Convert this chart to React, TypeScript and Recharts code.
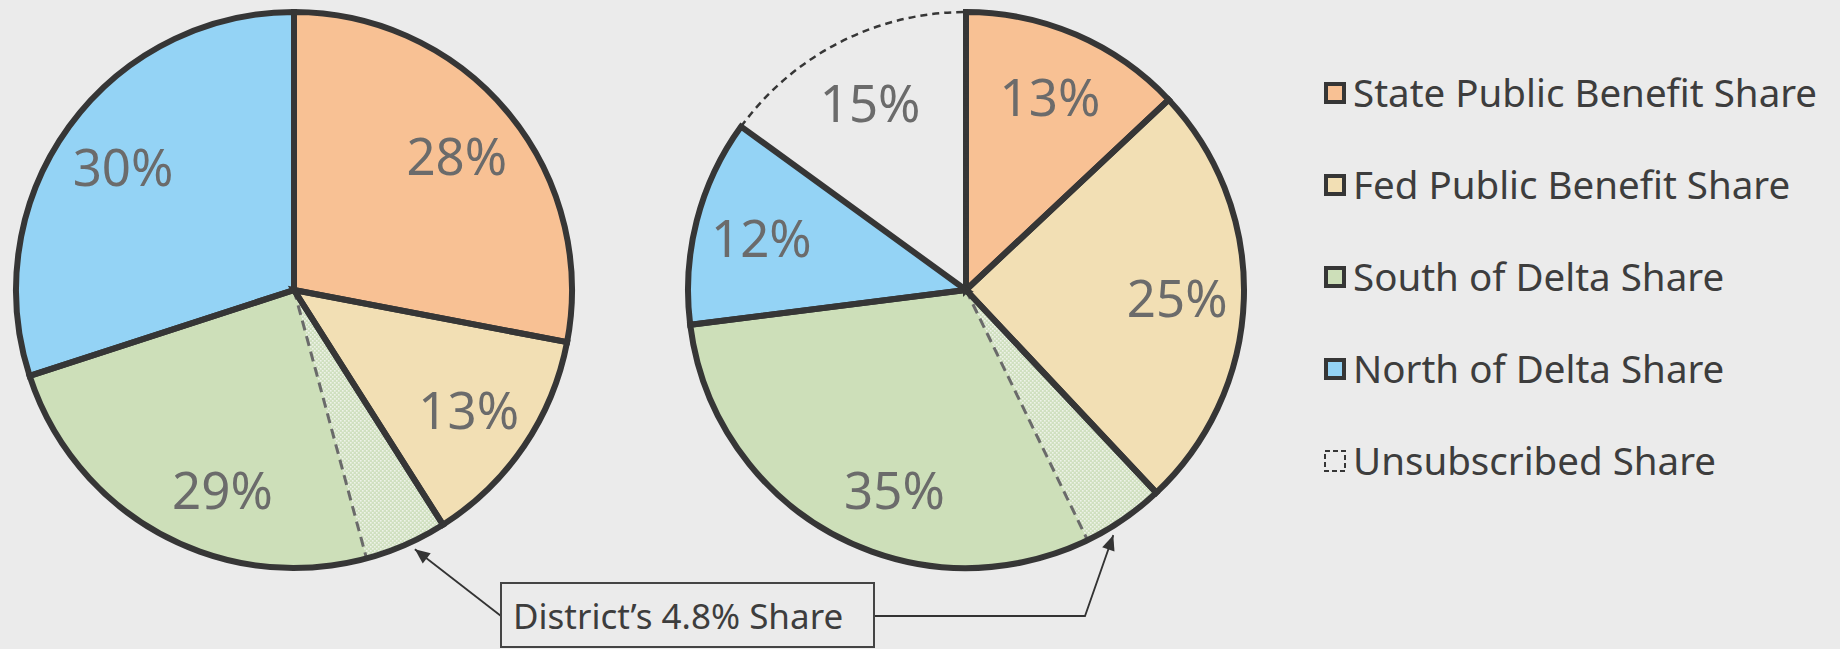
import React from "react";
import { PieChart, Pie, Cell } from "recharts";

// ---------- data ----------
const categories = [
  "State Public Benefit Share",
  "Fed Public Benefit Share",
  "South of Delta Share",
  "North of Delta Share",
  "Unsubscribed Share",
];
const currentShares = [28, 13, 29, 30];
const futureShares = [13, 25, 35, 12, 15];
const districtShare = 4.8;
const sliceColors = ["#f8c194", "#f2dfb4", "#cddfb9", "#94d3f5", "none"];
const calloutText = "District\u2019s 4.8% Share";

// ---------- layout / style ----------
const W = 1840;
const H = 649;
const BG = "#ebebeb";
const STROKE = "#363636";
const FONT = "'Noto Sans', sans-serif";
const R = 278;
const LEFT = { cx: 294, cy: 290 };
const RIGHT = { cx: 966, cy: 290 };
const RAD = Math.PI / 180;
const SW = 6;

const toData = (vals: number[]) =>
  vals.map((v, i) => ({ name: categories[i], value: v }));

const districtData = (vals: number[]) => {
  const before = vals[0] + vals[1];
  const total = vals.reduce((a, b) => a + b, 0);
  return [
    { name: "before", value: before },
    { name: "District", value: districtShare },
    { name: "after", value: total - before - districtShare },
  ];
};

const renderLabel = (p: any) => {
  const r = p.outerRadius * 0.76;
  const x = p.cx + r * Math.cos(-p.midAngle * RAD);
  const y = p.cy + r * Math.sin(-p.midAngle * RAD);
  return (
    <text
      x={x}
      y={y}
      fill="#6b6b6b"
      fontSize={51}
      fontFamily={FONT}
      textAnchor="middle"
      dominantBaseline="central"
    >
      {p.value}%
    </text>
  );
};

const pieCommon = {
  dataKey: "value",
  outerRadius: R,
  startAngle: 90,
  endAngle: -270,
  isAnimationActive: false,
};

// point on circle given clockwise angle from top
const polar = (c: { cx: number; cy: number }, d: number, deg: number) => ({
  x: c.cx + d * Math.sin(deg * RAD),
  y: c.cy - d * Math.cos(deg * RAD),
});

const Arrowhead = ({ from, to }: { from: { x: number; y: number }; to: { x: number; y: number } }) => {
  const dx = to.x - from.x;
  const dy = to.y - from.y;
  const len = Math.hypot(dx, dy);
  const ux = dx / len;
  const uy = dy / len;
  const L = 15;
  const hw = 6.5;
  const bx = to.x - ux * L;
  const by = to.y - uy * L;
  const pts = `${to.x},${to.y} ${bx - uy * hw},${by + ux * hw} ${bx + uy * hw},${by - ux * hw}`;
  return <polygon points={pts} fill="#333" />;
};

export default function App() {
  const leftData = toData(currentShares);
  const rightData = toData(futureShares);

  const legendRows = [93, 185, 277, 369, 461];

  const leftTip = polar(LEFT, R + 8, 155);
  const rightTip = polar(RIGHT, R + 8, 149);
  const box = { x: 501, y: 583, w: 373, h: 64 };
  const boxMidY = box.y + box.h / 2 + 1;
  const leftStart = { x: box.x, y: boxMidY };
  const rightCorner = { x: 1085, y: boxMidY };

  return (
    <div
      style={{
        position: "absolute",
        left: 0,
        top: 0,
        width: W,
        height: H,
        background: BG,
        overflow: "hidden",
      }}
    >
      <svg width={0} height={0} style={{ position: "absolute" }}>
        <defs>
          <pattern id="districtPattern" width="4" height="4" patternUnits="userSpaceOnUse">
            <rect width="4" height="4" fill="#d0e0c0" />
            <rect x="0" y="0" width="1.6" height="1.6" fill="#eef3e8" />
            <rect x="2" y="2" width="1.6" height="1.6" fill="#eef3e8" />
          </pattern>
        </defs>
      </svg>
      <div style={{ position: "absolute", left: 0, top: 0 }}>
        <PieChart width={W} height={H} margin={{ top: 0, right: 0, bottom: 0, left: 0 }}>
          {/* left pie: fills */}
          <Pie
            {...pieCommon}
            data={leftData}
            cx={LEFT.cx}
            cy={LEFT.cy}
            stroke="none"
            label={renderLabel}
            labelLine={false}
          >
            {leftData.map((_, i) => (
              <Cell key={i} fill={sliceColors[i]} stroke="none" />
            ))}
          </Pie>
          {/* left pie: district share */}
          <Pie
            {...pieCommon}
            data={districtData(currentShares)}
            cx={LEFT.cx}
            cy={LEFT.cy}
            stroke="none"
            label={false}
          >
            <Cell fill="none" stroke="none" />
            <Cell fill="url(#districtPattern)" stroke="#6a6a6a" strokeWidth={3} strokeDasharray="10 6" />
            <Cell fill="none" stroke="none" />
          </Pie>
          {/* left pie: outlines */}
          <Pie
            {...pieCommon}
            data={leftData}
            cx={LEFT.cx}
            cy={LEFT.cy}
            fill="none"
            stroke={STROKE}
            strokeWidth={SW}
            label={false}
          >
            {leftData.map((_, i) => (
              <Cell key={i} fill="none" stroke={STROKE} strokeWidth={SW} />
            ))}
          </Pie>

          {/* right pie: fills */}
          <Pie
            {...pieCommon}
            data={rightData}
            cx={RIGHT.cx}
            cy={RIGHT.cy}
            stroke="none"
            label={renderLabel}
            labelLine={false}
          >
            {rightData.map((_, i) => (
              <Cell key={i} fill={sliceColors[i]} stroke="none" />
            ))}
          </Pie>
          {/* right pie: district share */}
          <Pie
            {...pieCommon}
            data={districtData(futureShares)}
            cx={RIGHT.cx}
            cy={RIGHT.cy}
            stroke="none"
            label={false}
          >
            <Cell fill="none" stroke="none" />
            <Cell fill="url(#districtPattern)" stroke="#6a6a6a" strokeWidth={3} strokeDasharray="10 6" />
            <Cell fill="none" stroke="none" />
          </Pie>
          {/* right pie: outlines */}
          <Pie
            {...pieCommon}
            data={rightData}
            cx={RIGHT.cx}
            cy={RIGHT.cy}
            fill="none"
            stroke={STROKE}
            strokeWidth={SW}
            label={false}
          >
            {rightData.map((_, i) =>
              i === 4 ? (
                <Cell key={i} fill="none" stroke={STROKE} strokeWidth={2.5} strokeDasharray="7 5" />
              ) : (
                <Cell key={i} fill="none" stroke={STROKE} strokeWidth={SW} />
              )
            )}
          </Pie>
        </PieChart>
      </div>

      {/* legend and callout overlay */}
      <svg
        width={W}
        height={H}
        style={{ position: "absolute", left: 0, top: 0, pointerEvents: "none" }}
      >
        {categories.map((name, i) => {
          const cy = legendRows[i];
          const dashed = i === 4;
          return (
            <g key={name}>
              <rect
                x={dashed ? 1325 : 1326}
                y={dashed ? cy - 10 : cy - 9}
                width={dashed ? 20 : 18}
                height={dashed ? 20 : 18}
                fill={dashed ? "none" : sliceColors[i]}
                stroke={STROKE}
                strokeWidth={dashed ? 2 : 4}
                strokeDasharray={dashed ? "5 3" : undefined}
              />
              <text
                x={1353}
                y={cy + 13.5}
                fontSize={38.5}
                fontFamily={FONT}
                fill="#3d3d3d"
              >
                {name}
              </text>
            </g>
          );
        })}

        {/* callout */}
        <line x1={leftStart.x} y1={leftStart.y} x2={leftTip.x} y2={leftTip.y} stroke="#333" strokeWidth={1.8} />
        <Arrowhead from={leftStart} to={leftTip} />
        <polyline
          points={`${box.x + box.w},${boxMidY} ${rightCorner.x},${rightCorner.y} ${rightTip.x},${rightTip.y}`}
          fill="none"
          stroke="#333"
          strokeWidth={1.8}
        />
        <Arrowhead from={rightCorner} to={rightTip} />
        <rect x={box.x} y={box.y} width={box.w} height={box.h} fill={BG} stroke="#444" strokeWidth={2} />
        <text x={box.x + 12} y={box.y + 46} fontSize={35} fontFamily={FONT} fill="#3d3d3d">
          {calloutText}
        </text>
      </svg>
    </div>
  );
}
